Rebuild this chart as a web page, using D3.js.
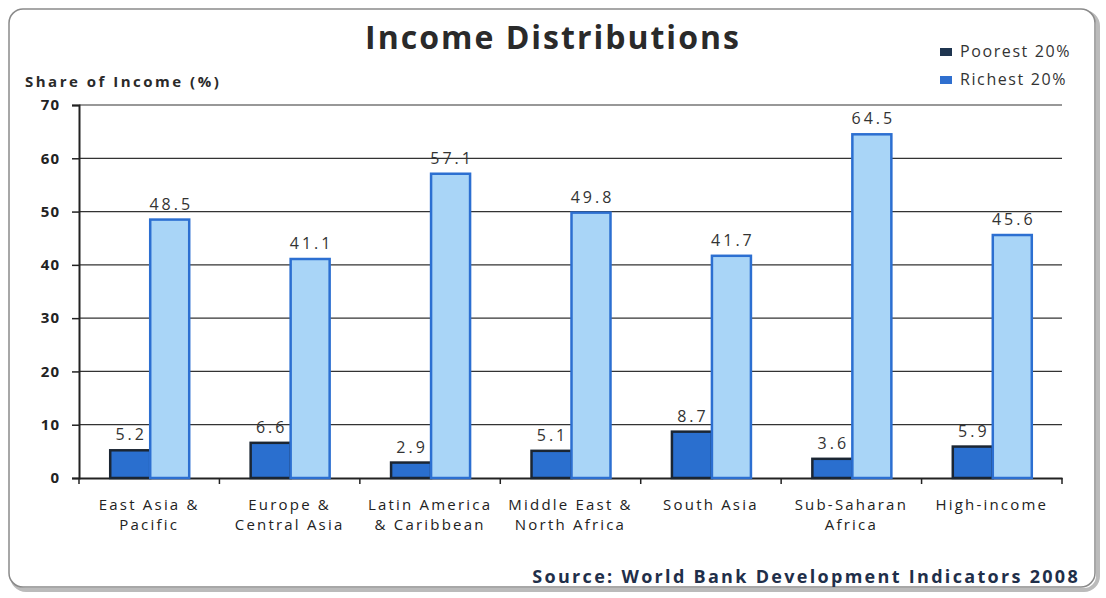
<!DOCTYPE html>
<html>
<head>
<meta charset="utf-8">
<script src="https://cdn.jsdelivr.net/npm/d3@7/dist/d3.min.js"></script>
<style>
  html, body { margin: 0; padding: 0; background: #fff; }
  svg { display: block; }
  text { font-family: "Open Sans", "DejaVu Sans", sans-serif; }
</style>
</head>
<body>
<svg id="chart" width="1106" height="598"></svg>
<script>
// Income share by region, 2008
const regions = [
  ["East Asia &", "Pacific"],
  ["Europe &", "Central Asia"],
  ["Latin America", "& Caribbean"],
  ["Middle East &", "North Africa"],
  ["South Asia"],
  ["Sub-Saharan", "Africa"],
  ["High-income"]
];
const poorest = [5.2, 6.6, 2.9, 5.1, 8.7, 3.6, 5.9];
const richest = [48.5, 41.1, 57.1, 49.8, 41.7, 64.5, 45.6];
const seriesNames = ["Poorest 20%", "Richest 20%"];
const yTicks = [0, 10, 20, 30, 40, 50, 60, 70];

const svg = d3.select("#chart");
const W = 1106, H = 598;
const m = { left: 79, right: 1062, top: 105, bottom: 478 };

// Rounded frame with a soft right/bottom shadow
svg.append("rect")
  .attr("x", 12).attr("y", 12).attr("width", W - 20).attr("height", H - 20)
  .attr("rx", 14).attr("fill", "none").attr("stroke", "#bbb").attr("stroke-width", 4);
svg.append("rect")
  .attr("x", 9).attr("y", 9).attr("width", W - 20).attr("height", H - 20)
  .attr("rx", 14).attr("fill", "#fff").attr("stroke", "#8a8a8a").attr("stroke-width", 1.5);

const x = d3.scaleBand().domain(d3.range(regions.length)).range([m.left, m.right]);
const y = d3.scaleLinear().domain([0, 70]).range([m.bottom, m.top]);

const barW = 40;

// Gridlines
svg.append("g").selectAll("line").data(yTicks.filter(d => d > 0)).join("line")
  .attr("x1", m.left).attr("x2", m.right)
  .attr("y1", d => y(d)).attr("y2", d => y(d))
  .attr("stroke", "#333").attr("stroke-width", 1.2);

// Y axis
const yAxis = d3.axisLeft(y).tickValues(yTicks).tickSize(7).tickPadding(12);
const gy = svg.append("g").attr("transform", `translate(${m.left},0)`).call(yAxis);
gy.select(".domain").attr("stroke", "#222").attr("stroke-width", 2);
gy.selectAll(".tick line").attr("stroke", "#222").attr("stroke-width", 1.5);
gy.selectAll(".tick text").attr("font-size", 15).attr("font-weight", "bold")
  .attr("fill", "#222").attr("letter-spacing", 1);

// X axis
const gx = svg.append("g").attr("transform", `translate(0,${m.bottom})`)
  .call(d3.axisBottom(x).tickValues([]).tickSizeOuter(0));
gx.select(".domain").attr("stroke", "#222").attr("stroke-width", 2);
svg.append("g").selectAll("line").data(d3.range(regions.length + 1)).join("line")
  .attr("x1", i => m.left + i * x.step()).attr("x2", i => m.left + i * x.step())
  .attr("y1", m.bottom).attr("y2", m.bottom + 6)
  .attr("stroke", "#222").attr("stroke-width", 1.5);

// Category labels (one text element per line)
const labRows = regions.flatMap((lines, i) => lines.map((t, j) => ({ t, i, j })));
svg.append("g").selectAll("text").data(labRows).join("text")
  .attr("x", d => x(d.i) + x.bandwidth() / 2)
  .attr("y", d => 510 + d.j * 20)
  .attr("text-anchor", "middle")
  .attr("font-size", 15).attr("fill", "#222").attr("letter-spacing", 2.2)
  .text(d => d.t);

// Bars
const cx = i => x(i) + x.bandwidth() / 2 + 1;
svg.append("g").selectAll("rect").data(poorest).join("rect")
  .attr("x", (d, i) => cx(i) - barW)
  .attr("y", d => y(d)).attr("width", barW).attr("height", d => y(0) - y(d))
  .attr("fill", "#2a6fcf").attr("stroke", "#1b2633").attr("stroke-width", 2.5);
svg.append("g").selectAll("rect").data(richest).join("rect")
  .attr("x", (d, i) => cx(i))
  .attr("y", d => y(d)).attr("width", barW - 1).attr("height", d => y(0) - y(d))
  .attr("fill", "#a9d5f7").attr("stroke", "#2c6fd1").attr("stroke-width", 2.5);

// Value labels
svg.append("g").selectAll("text").data(poorest).join("text")
  .attr("x", (d, i) => cx(i) - barW / 2 + 1)
  .attr("y", d => y(d) - 10)
  .attr("text-anchor", "middle").attr("font-size", 16).attr("fill", "#333")
  .attr("letter-spacing", 3)
  .text(d => d.toFixed(1));
svg.append("g").selectAll("text").data(richest).join("text")
  .attr("x", (d, i) => cx(i) + barW / 2 + 1)
  .attr("y", d => y(d) - 10)
  .attr("text-anchor", "middle").attr("font-size", 16).attr("fill", "#333")
  .attr("letter-spacing", 3)
  .text(d => d.toFixed(1));

// Title
svg.append("text").attr("x", 553).attr("y", 49).attr("text-anchor", "middle")
  .attr("font-size", 32).attr("font-weight", "bold").attr("fill", "#2a2a2a")
  .attr("letter-spacing", 2)
  .text("Income Distributions");

// Axis title
svg.append("text").attr("x", 25).attr("y", 87)
  .attr("font-size", 15).attr("font-weight", "bold").attr("fill", "#2a2a2a")
  .attr("letter-spacing", 2.5)
  .text("Share of Income (%)");

// Legend
const legendColors = ["#1f3550", "#2f6fcf"];
const lg = svg.append("g").selectAll("g").data(seriesNames).join("g")
  .attr("transform", (d, i) => `translate(940,${57 + i * 28})`);
lg.append("rect").attr("x", 0).attr("y", -9).attr("width", 12).attr("height", 8)
  .attr("fill", (d, i) => legendColors[i]);
lg.append("text").attr("x", 20).attr("y", 0)
  .attr("font-size", 16).attr("fill", "#333").attr("letter-spacing", 1.6)
  .text(d => d);

// Source
svg.append("text").attr("x", 1080).attr("y", 583).attr("text-anchor", "end")
  .attr("font-size", 18).attr("font-weight", "bold").attr("fill", "#1f2f4a")
  .attr("letter-spacing", 2.3)
  .text("Source: World Bank Development Indicators 2008");
</script>
</body>
</html>
